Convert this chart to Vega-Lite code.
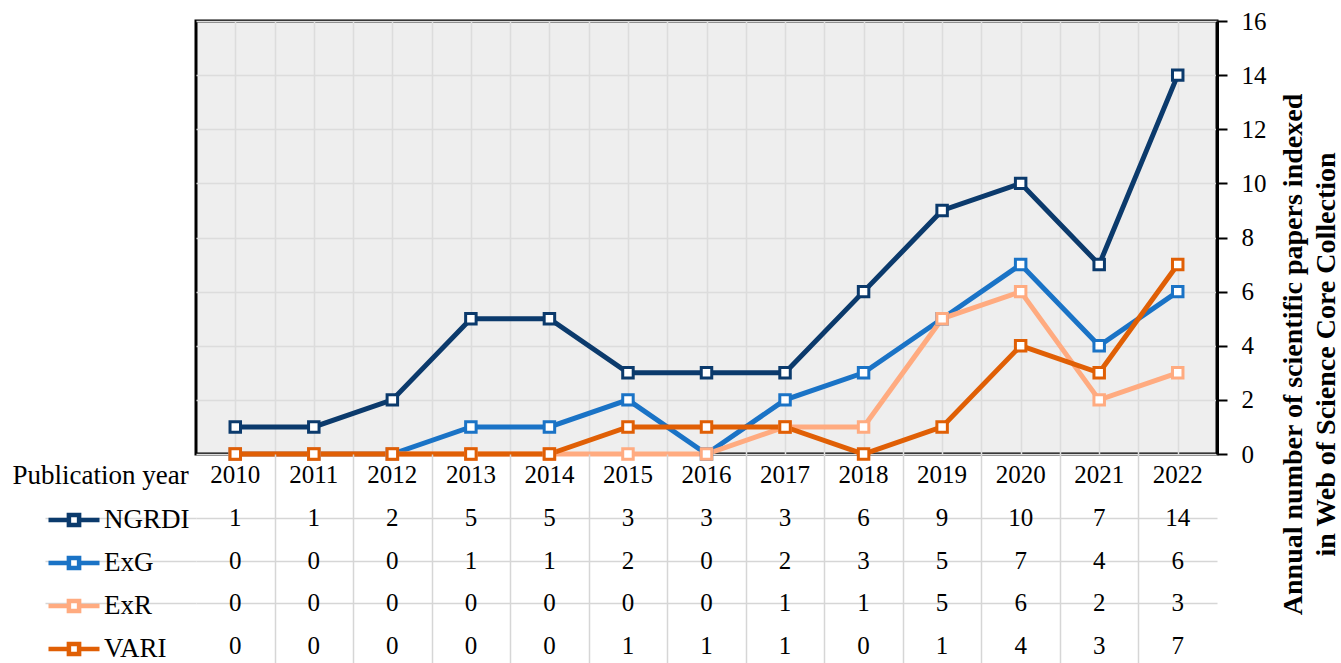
{
  "$schema": "https://vega.github.io/schema/vega-lite/v6.json",
  "padding": {"left": 12, "top": 7, "right": 0, "bottom": 0},
  "background": "white",
  "bounds": "flush",
  "spacing": 0,
  "config": {
    "font": "Liberation Serif",
    "text": {"font": "Liberation Serif", "fontSize": 25, "color": "black"}
  },
  "datasets": {
    "papers": [
      {"year": 2010, "NGRDI": 1, "ExG": 0, "ExR": 0, "VARI": 0},
      {"year": 2011, "NGRDI": 1, "ExG": 0, "ExR": 0, "VARI": 0},
      {"year": 2012, "NGRDI": 2, "ExG": 0, "ExR": 0, "VARI": 0},
      {"year": 2013, "NGRDI": 5, "ExG": 1, "ExR": 0, "VARI": 0},
      {"year": 2014, "NGRDI": 5, "ExG": 1, "ExR": 0, "VARI": 0},
      {"year": 2015, "NGRDI": 3, "ExG": 2, "ExR": 0, "VARI": 1},
      {"year": 2016, "NGRDI": 3, "ExG": 0, "ExR": 0, "VARI": 1},
      {"year": 2017, "NGRDI": 3, "ExG": 2, "ExR": 1, "VARI": 1},
      {"year": 2018, "NGRDI": 6, "ExG": 3, "ExR": 1, "VARI": 0},
      {"year": 2019, "NGRDI": 9, "ExG": 5, "ExR": 5, "VARI": 1},
      {"year": 2020, "NGRDI": 10, "ExG": 7, "ExR": 6, "VARI": 4},
      {"year": 2021, "NGRDI": 7, "ExG": 4, "ExR": 2, "VARI": 3},
      {"year": 2022, "NGRDI": 14, "ExG": 6, "ExR": 3, "VARI": 7}
    ]
  },
  "vconcat": [
    {
      "width": 1021,
      "height": 433,
      "view": {"fill": "#eeeeee", "stroke": "black", "strokeWidth": 3},
      "data": {"name": "papers"},
      "transform": [{"fold": ["NGRDI", "ExG", "ExR", "VARI"], "as": ["series", "count"]}],
      "encoding": {
        "x": {
          "field": "year", "type": "quantitative",
          "scale": {"domain": [2009.5, 2022.5], "nice": false, "zero": false},
          "axis": {
            "values": [2010, 2010.5, 2011, 2011.5, 2012, 2012.5, 2013, 2013.5, 2014, 2014.5, 2015, 2015.5, 2016, 2016.5, 2017, 2017.5, 2018, 2018.5, 2019, 2019.5, 2020, 2020.5, 2021, 2021.5, 2022],
            "grid": true, "gridColor": "#dcdcdc", "gridWidth": 1.5,
            "labels": false, "ticks": false, "domain": false, "title": null
          }
        },
        "y": {
          "field": "count", "type": "quantitative",
          "scale": {"domain": [0, 16], "nice": false},
          "axis": {
            "orient": "right",
            "values": [0, 2, 4, 6, 8, 10, 12, 14, 16],
            "grid": true, "gridColor": "#dcdcdc", "gridWidth": 1.5,
            "domain": true, "domainColor": "black", "domainWidth": 3,
            "ticks": true, "tickColor": "black", "tickSize": 10, "tickWidth": 2,
            "labelFont": "Liberation Serif", "labelFontSize": 25, "labelColor": "black", "labelPadding": 14,
            "title": ["Annual number of scientific papers indexed", "in Web of Science Core Collection"],
            "titleFont": "Liberation Serif", "titleFontSize": 28, "titleFontWeight": "bold", "titleColor": "black",
            "titleAngle": -90, "titleY": 333, "titlePadding": 8, "titleLineHeight": 33
          }
        },
        "color": {
          "field": "series", "type": "nominal",
          "scale": {"domain": ["NGRDI", "ExG", "ExR", "VARI"], "range": ["#0b3a6c", "#1a73c6", "#ffab80", "#e05f05"]},
          "legend": {
            "orient": "none", "legendX": -150, "legendY": 471,
            "title": null, "padding": 0,
            "symbolType": "M-1,0H-0.22M0.22,0H1M-0.2,-0.2H0.2V0.2H-0.2Z",
            "symbolSize": 2601, "symbolStrokeWidth": 4.5,
            "rowPadding": 0, "labelOffset": 2,
            "labelFont": "Liberation Serif", "labelFontSize": 27, "labelColor": "black", "labelLimit": 0,
            "encode": {"symbols": {"update": {"fill": {"value": "white"}, "strokeWidth": {"value": 4.5}}}}
          }
        }
      },
      "layer": [
        {"mark": {"type": "line", "strokeWidth": 5}},
        {"mark": {"type": "point", "shape": "square", "filled": false, "fill": "white", "fillOpacity": 1, "opacity": 1, "size": 110, "strokeWidth": 3}}
      ]
    },
    {
      "width": 1021,
      "height": 213,
      "view": {"stroke": null},
      "data": {"name": "papers"},
      "transform": [{"fold": ["NGRDI", "ExG", "ExR", "VARI"], "as": ["series", "count"]}],
      "encoding": {
        "x": {
          "field": "year", "type": "quantitative",
          "scale": {"domain": [2009.5, 2022.5], "nice": false, "zero": false},
          "axis": {
            "values": [2010.5, 2011.5, 2012.5, 2013.5, 2014.5, 2015.5, 2016.5, 2017.5, 2018.5, 2019.5, 2020.5, 2021.5],
            "grid": true, "gridColor": "#d6d6d6", "gridWidth": 1.5,
            "labels": false, "ticks": false, "domain": false, "title": null
          }
        }
      },
      "layer": [
        {
          "mark": {"type": "text", "baseline": "middle", "align": "center"},
          "encoding": {
            "y": {
              "field": "series", "type": "nominal",
              "scale": {"domain": ["Publication year", "NGRDI", "ExG", "ExR", "VARI"], "paddingInner": 0, "paddingOuter": 0},
              "axis": {
                "values": ["NGRDI", "ExG", "ExR"],
                "bandPosition": 1,
                "grid": true, "gridColor": "#d6d6d6", "gridWidth": 1.5,
                "ticks": true, "tickSize": 151, "tickColor": "#d6d6d6", "tickWidth": 1.5,
                "labels": false, "domain": false,
                "title": "Publication year",
                "titleFont": "Liberation Serif", "titleFontSize": 27, "titleFontWeight": "normal", "titleColor": "black",
                "titleAngle": 0, "titleAlign": "left", "titleBaseline": "middle", "titleX": -184, "titleY": 21
              }
            },
            "text": {"field": "count", "type": "nominal"}
          }
        },
        {
          "transform": [{"filter": "datum.series === 'NGRDI'"}],
          "mark": {"type": "text", "baseline": "middle", "align": "center"},
          "encoding": {
            "y": {"datum": "Publication year", "type": "nominal"},
            "text": {"field": "year", "type": "nominal"}
          }
        }
      ]
    }
  ]
}
